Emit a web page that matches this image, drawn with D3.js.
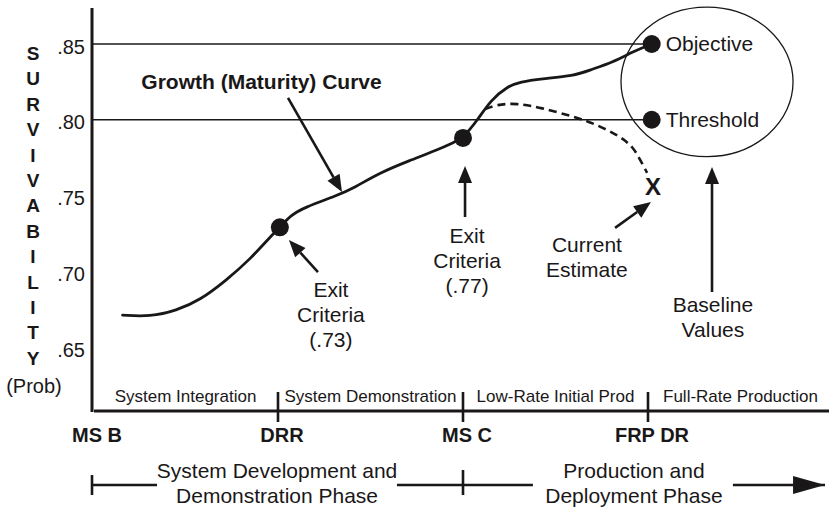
<!DOCTYPE html>
<html>
<head>
<meta charset="utf-8">
<script src="https://cdn.jsdelivr.net/npm/d3@7"></script>
<style>
  html, body { margin: 0; padding: 0; background: #fff; }
  svg { display: block; font-family: "Liberation Sans", Arial, Helvetica, sans-serif; }
</style>
</head>
<body>
<div id="chart"></div>
<script>
// Survivability (probability) axis
const Y_TICKS = [0.85, 0.80, 0.75, 0.70, 0.65];
const Y_TICK_LABELS = [".85", ".80", ".75", ".70", ".65"];
const Y_TITLE = "SURVIVABILITY".split("");

// Acquisition milestones (x = milestone index) and the stages between them
const MILESTONES = ["MS B", "DRR", "MS C", "FRP DR"];
const STAGES = ["System Integration", "System Demonstration", "Low-Rate Initial Prod", "Full-Rate Production"];

// Growth (maturity) curve
const GROWTH_T = [0.16, 0.31, 0.45, 0.58, 0.72, 0.85, 0.96, 1.01, 1.07, 1.14, 1.32, 1.41, 1.55, 1.71, 1.86, 1.95, 2.0,
  2.08, 2.15, 2.24, 2.31, 2.42, 2.6, 2.69, 2.81, 2.92, 3.02];
const GROWTH_V = [0.671, 0.670, 0.674, 0.681, 0.694, 0.708, 0.723, 0.729, 0.737, 0.742, 0.750, 0.755, 0.765, 0.773, 0.780, 0.785, 0.788,
  0.800, 0.813, 0.822, 0.825, 0.827, 0.829, 0.833, 0.838, 0.845, 0.850];

// Current estimate (dashed) branching off the growth curve
const ESTIMATE_T = [2.12, 2.18, 2.29, 2.42, 2.6, 2.72, 2.85, 2.92, 2.96, 2.995];
const ESTIMATE_V = [0.807, 0.810, 0.811, 0.808, 0.802, 0.797, 0.789, 0.782, 0.773, 0.765];
const CURRENT_ESTIMATE = { t: 3.027, v: 0.756 };

const EXIT_POINTS = [{ t: 1.01, v: 0.729 }, { t: 2.0, v: 0.788 }];
const BASELINE_POINTS = [
  { label: "Objective", t: 3.02, v: 0.85 },
  { label: "Threshold", t: 3.02, v: 0.80 },
];

// Callouts: text lines anchored at (t, v), arrows from -> to
const NOTES = [
  { lines: ["Growth (Maturity) Curve"], t: 0.911, v: 0.8203, bold: true, size: 21 },
  { lines: ["Exit", "Criteria", "(.73)"], t: 1.286, v: 0.683 },
  { lines: ["Exit", "Criteria", "(.77)"], t: 2.022, v: 0.7186 },
  { lines: ["Current", "Estimate"], t: 2.67, v: 0.7127 },
  { lines: ["Baseline", "Values"], t: 3.351, v: 0.6731 },
];
const ARROWS = [
  { from: [1.054, 0.8144], to: [1.346, 0.7523] },
  { from: [1.216, 0.6995], to: [1.059, 0.7206] },
  { from: [2.011, 0.7358], to: [2.011, 0.7695] },
  { from: [2.822, 0.7286], to: [3.016, 0.7457] },
  { from: [3.346, 0.6863], to: [3.346, 0.7688] },
];
const BASELINE_RING = { t0: 2.854, t1: 3.784, v0: 0.7757, v1: 0.8744 };

// Phase bracket below the milestones
const PHASES = [
  { lines: ["System Development and", "Demonstration Phase"], t: 0.995 },
  { lines: ["Production and", "Deployment Phase"], t: 2.924 },
];
const BRACKET_SEGMENTS = [[0, 0.346], [1.643, 2.378], [3.459, 3.957]];
const BRACKET_TICKS = [0, 2];

const INK = "#1a1718";
const W = 829, H = 509;
const AXIS_Y = 411, AXIS_TOP = 8;

const x = d3.scaleLinear().domain([0, 4]).range([93, 833]);
const y = d3.scaleLinear().domain([0.65, 0.85]).range([347, 44]);

const svg = d3.select("#chart").append("svg")
  .attr("width", W).attr("height", H)
  .attr("viewBox", `0 0 ${W} ${H}`);

function arrow(g, x1, y1, x2, y2, len = 17, half = 7) {
  const a = Math.atan2(y2 - y1, x2 - x1);
  const bx = x2 - len * Math.cos(a), by = y2 - len * Math.sin(a);
  g.append("line")
    .attr("x1", x1).attr("y1", y1).attr("x2", bx).attr("y2", by)
    .attr("stroke", INK).attr("stroke-width", 2.6);
  g.append("path")
    .attr("d", `M${x2},${y2}L${bx + half * Math.sin(a)},${by - half * Math.cos(a)}L${bx - half * Math.sin(a)},${by + half * Math.cos(a)}Z`)
    .attr("fill", INK);
}

// gridlines to the baseline values
svg.append("g").selectAll("line")
  .data(BASELINE_POINTS)
  .join("line")
  .attr("x1", x(0)).attr("x2", (d) => x(d.t))
  .attr("y1", (d) => y(d.v)).attr("y2", (d) => y(d.v))
  .attr("stroke", INK).attr("stroke-width", 1.3);

// axes frame
svg.append("line")
  .attr("x1", x(0) - 1).attr("x2", x(0) - 1).attr("y1", AXIS_TOP).attr("y2", AXIS_Y + 1)
  .attr("stroke", INK).attr("stroke-width", 3);
svg.append("line")
  .attr("x1", x(0) + 1).attr("x2", W).attr("y1", AXIS_Y).attr("y2", AXIS_Y)
  .attr("stroke", INK).attr("stroke-width", 3);

// y tick labels
svg.append("g").selectAll("text")
  .data(Y_TICKS)
  .join("text")
  .attr("x", 85)
  .attr("y", (d) => y(d) + 9.5)
  .attr("text-anchor", "end")
  .attr("font-size", 20)
  .attr("fill", INK)
  .text((d, i) => Y_TICK_LABELS[i]);

// vertical axis title
svg.append("g").selectAll("text")
  .data(Y_TITLE)
  .join("text")
  .attr("x", 33)
  .attr("y", (d, i) => 60 + i * 25.4)
  .attr("text-anchor", "middle")
  .attr("font-size", 19)
  .attr("font-weight", "bold")
  .attr("fill", INK)
  .text((d) => d);
svg.append("text")
  .attr("x", 34).attr("y", 393)
  .attr("text-anchor", "middle")
  .attr("font-size", 20)
  .attr("fill", INK)
  .text("(Prob)");

// stage labels and milestone ticks
svg.append("g").selectAll("text")
  .data(STAGES)
  .join("text")
  .attr("x", (d, i) => (x(i) + x(i + 1)) / 2)
  .attr("y", 402)
  .attr("text-anchor", "middle")
  .attr("font-size", 17)
  .attr("fill", INK)
  .text((d) => d);

svg.append("g").selectAll("line")
  .data(MILESTONES.slice(1))
  .join("line")
  .attr("x1", (d, i) => x(i + 1)).attr("x2", (d, i) => x(i + 1))
  .attr("y1", 392).attr("y2", 422)
  .attr("stroke", INK).attr("stroke-width", 2.6);

svg.append("g").selectAll("text")
  .data(MILESTONES)
  .join("text")
  .attr("x", (d, i) => x(i) + 4)
  .attr("y", 442)
  .attr("text-anchor", "middle")
  .attr("font-size", 20)
  .attr("font-weight", "bold")
  .attr("fill", INK)
  .text((d) => d);

// phase bracket
PHASES.forEach((p) => {
  p.lines.forEach((line, j) => {
    svg.append("text")
      .attr("x", x(p.t)).attr("y", 478 + j * 25)
      .attr("text-anchor", "middle")
      .attr("font-size", 21)
      .attr("fill", INK)
      .text(line);
  });
});
BRACKET_SEGMENTS.forEach(([a, b]) => {
  svg.append("line")
    .attr("x1", x(a)).attr("x2", x(b)).attr("y1", 485).attr("y2", 485)
    .attr("stroke", INK).attr("stroke-width", 2.6);
});
BRACKET_TICKS.forEach((t, i) => {
  svg.append("line")
    .attr("x1", x(t) - (i === 0 ? 1 : 0)).attr("x2", x(t) - (i === 0 ? 1 : 0))
    .attr("y1", i === 0 ? 475 : 470).attr("y2", 495)
    .attr("stroke", INK).attr("stroke-width", 2.6);
});
const last = BRACKET_SEGMENTS[BRACKET_SEGMENTS.length - 1];
svg.append("path")
  .attr("d", `M${x(last[1])},485L${x(last[1]) - 32},476L${x(last[1]) - 32},494Z`)
  .attr("fill", INK);

// baseline ring
svg.append("ellipse")
  .attr("cx", (x(BASELINE_RING.t0) + x(BASELINE_RING.t1)) / 2)
  .attr("cy", (y(BASELINE_RING.v0) + y(BASELINE_RING.v1)) / 2)
  .attr("rx", (x(BASELINE_RING.t1) - x(BASELINE_RING.t0)) / 2)
  .attr("ry", (y(BASELINE_RING.v0) - y(BASELINE_RING.v1)) / 2)
  .attr("fill", "none")
  .attr("stroke", INK).attr("stroke-width", 1.3);

// curves
const line = d3.line().x((d) => x(d[0])).y((d) => y(d[1])).curve(d3.curveBasis);

svg.append("path")
  .datum(d3.zip(ESTIMATE_T, ESTIMATE_V))
  .attr("d", line)
  .attr("fill", "none")
  .attr("stroke", INK).attr("stroke-width", 2.6)
  .attr("stroke-dasharray", "8 5");

svg.append("path")
  .datum(d3.zip(GROWTH_T, GROWTH_V))
  .attr("d", line)
  .attr("fill", "none")
  .attr("stroke", INK).attr("stroke-width", 2.8)
  .attr("stroke-linecap", "round");

// points
svg.append("g").selectAll("circle")
  .data(EXIT_POINTS.concat(BASELINE_POINTS))
  .join("circle")
  .attr("cx", (d) => x(d.t)).attr("cy", (d) => y(d.v))
  .attr("r", 9)
  .attr("fill", INK);

svg.append("g").selectAll("text")
  .data(BASELINE_POINTS)
  .join("text")
  .attr("x", (d) => x(d.t) + 14)
  .attr("y", (d) => y(d.v) + 7)
  .attr("font-size", 21)
  .attr("fill", INK)
  .text((d) => d.label);

svg.append("text")
  .attr("x", x(CURRENT_ESTIMATE.t)).attr("y", y(CURRENT_ESTIMATE.v) + 8.5)
  .attr("text-anchor", "middle")
  .attr("font-size", 24)
  .attr("font-weight", "bold")
  .attr("fill", INK)
  .text("X");

// callouts
const notes = svg.append("g");
NOTES.forEach((n) => {
  n.lines.forEach((line, j) => {
    notes.append("text")
      .attr("x", x(n.t)).attr("y", y(n.v) + j * 25)
      .attr("text-anchor", "middle")
      .attr("font-size", n.size || 21)
      .attr("font-weight", n.bold ? "bold" : "normal")
      .attr("fill", INK)
      .text(line);
  });
});

const arrows = svg.append("g");
ARROWS.forEach((a) => {
  arrow(arrows, x(a.from[0]), y(a.from[1]), x(a.to[0]), y(a.to[1]));
});
</script>
</body>
</html>
